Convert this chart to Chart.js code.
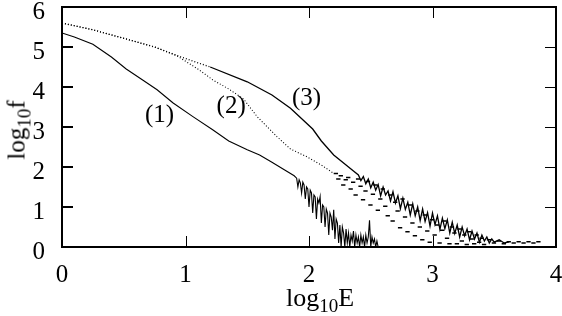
<!DOCTYPE html>
<html>
<head>
<meta charset="utf-8">
<script src="https://cdn.jsdelivr.net/npm/chart.js@4.4.0/dist/chart.umd.min.js"></script>
<style>
  html, body { margin: 0; padding: 0; background: #fff; }
  #wrap { position: relative; width: 562px; height: 316px; }
  .axis-title { position: absolute; font-family: "Liberation Serif", serif; font-size: 26px; color: #000; white-space: nowrap; line-height: 1; }
  .axis-title sub { font-size: 19px; vertical-align: -6px; line-height: 0; }
  #xtitle { left: 320px; top: 285px; transform: translateX(-50%); }
  #ytitle { left: 16px; top: 130px; transform: translate(-50%, -50%) rotate(-90deg); font-size: 25px; }
</style>
</head>
<body>
<div id="wrap">
  <canvas id="chart"></canvas>
  <div class="axis-title" id="xtitle">log<sub>10</sub>E</div>
  <div class="axis-title" id="ytitle">log<sub>10</sub>f</div>
</div>
<script>
// Tick values
const xTicks = [0, 1, 2, 3, 4];
const yTicks = [0, 1, 2, 3, 4, 5, 6];

// Curve (1) - solid, noisy tail
const x1 = [0, 0.1, 0.25, 0.4, 0.52, 0.65, 0.77, 0.9, 1.06, 1.22, 1.35, 1.5, 1.6, 1.7, 1.8, 1.88,
  1.90, 1.91, 1.92, 1.93, 1.94, 1.95, 1.96, 1.97, 1.98, 1.99, 2.00, 2.01, 2.02, 2.03, 2.04, 2.05,
  2.06, 2.07, 2.08, 2.09, 2.10, 2.11, 2.12, 2.13, 2.14, 2.15, 2.16, 2.17, 2.18, 2.19, 2.20, 2.21,
  2.22, 2.23, 2.24, 2.25, 2.26, 2.27, 2.28, 2.29, 2.30, 2.31, 2.32, 2.33, 2.34, 2.35, 2.36, 2.37,
  2.38, 2.39, 2.40, 2.41, 2.42, 2.43, 2.44, 2.45, 2.46, 2.47, 2.48, 2.49, 2.50, 2.51, 2.52, 2.53,
  2.54, 2.55, 2.56];
const y1 = [5.35, 5.25, 5.07, 4.75, 4.45, 4.18, 3.93, 3.6, 3.26, 2.93, 2.65, 2.43, 2.3, 2.12, 1.93, 1.78,
  1.72, 1.50, 1.68, 1.60, 1.35, 1.62, 1.55, 1.20, 1.50, 1.45, 1.00, 1.42, 1.35, 0.85, 1.30, 1.25,
  0.70, 1.20, 1.10, 1.26, 0.60, 1.05, 1.00, 0.50, 0.95, 0.85, 0.30, 0.85, 0.75, 0.42, 0.93, 0.20,
  0.70, 0.60, 0.10, 0.55, 0.00, 0.50, 0.35, 0.00, 0.45, 0.10, 0.35, 0.00, 0.30, 0.15, 0.40, 0.00,
  0.30, 0.10, 0.25, 0.00, 0.30, 0.10, 0.25, 0.00, 0.30, 0.10, 0.25, 0.67, 0.00, 0.25, 0.10, 0.20,
  0.00, 0.15, 0.00];

// Curve (2) - dotted main part
const x2 = [0, 0.25, 0.52, 0.75, 0.93, 1.1, 1.22, 1.35, 1.47, 1.58, 1.74, 1.85, 1.98, 2.1, 2.2];
const y2 = [5.6, 5.43, 5.2, 5.0, 4.78, 4.45, 4.18, 3.95, 3.7, 3.26, 2.76, 2.45, 2.26, 2.05, 1.84];

// Curve (2) - binned tail, drawn as short horizontal dashes
const x2t = [2.20, 2.22, 2.24, 2.26, 2.28, 2.30, 2.32, 2.34, 2.36, 2.38, 2.40, 2.42, 2.44, 2.46, 2.48,
  2.50, 2.52, 2.54, 2.56, 2.58, 2.60, 2.62, 2.64, 2.66, 2.68, 2.70, 2.72, 2.74, 2.76, 2.78, 2.80,
  2.82, 2.84, 2.86, 2.88, 2.90, 2.92, 2.94, 2.96, 2.98, 3.00, 3.02, 3.04, 3.06, 3.08, 3.10, 3.12,
  3.14, 3.16, 3.18, 3.20, 3.22, 3.24, 3.26, 3.28, 3.30, 3.32, 3.34, 3.36, 3.38, 3.40, 3.44, 3.48,
  3.52, 3.56, 3.60, 3.64, 3.68, 3.72, 3.76, 3.80, 3.84];
const y2t = [1.84, 1.70, 1.78, 1.55, 1.68, 1.74, 1.45, 1.62, 1.30, 1.70, 1.52, 1.18, 1.40, 1.64, 1.05,
  1.32, 1.55, 0.92, 1.20, 1.45, 1.02, 0.78, 1.30, 0.65, 1.12, 0.90, 0.48, 1.20, 0.75, 0.38, 1.05,
  0.60, 0.28, 0.90, 0.50, 0.18, 0.80, 0.40, 0.12, 0.68, 0.30, 0.55, 0.10, 0.42, 0.65, 0.22, 0.08,
  0.50, 0.35, 0.08, 0.45, 0.15, 0.30, 0.06, 0.38, 0.20, 0.08, 0.30, 0.12, 0.22, 0.06, 0.18, 0.10,
  0.15, 0.08, 0.13, 0.10, 0.13, 0.10, 0.13, 0.10, 0.13];
const binWidth = 0.035;

// Curve (3) - thin line, noisy tail
const x3 = [0, 0.25, 0.52, 0.75, 0.955, 1.2, 1.5, 1.7, 1.85, 2.03, 2.1, 2.2, 2.3, 2.36,
  2.40, 2.42, 2.44, 2.46, 2.48, 2.50, 2.52, 2.54, 2.56, 2.58, 2.60, 2.62, 2.64, 2.66, 2.68, 2.70,
  2.72, 2.74, 2.76, 2.78, 2.80, 2.82, 2.84, 2.86, 2.88, 2.90, 2.92, 2.94, 2.96, 2.98, 3.00, 3.02,
  3.04, 3.06, 3.08, 3.10, 3.12, 3.14, 3.16, 3.18, 3.20, 3.22, 3.24, 3.26, 3.28, 3.30, 3.32, 3.34,
  3.36, 3.38, 3.40, 3.42, 3.44, 3.46, 3.48, 3.50, 3.54, 3.58, 3.62];
const y3 = [5.6, 5.43, 5.2, 5.0, 4.76, 4.5, 4.13, 3.8, 3.47, 2.95, 2.65, 2.3, 2.05, 1.9,
  1.80, 1.66, 1.76, 1.58, 1.70, 1.48, 1.62, 1.42, 1.56, 1.28, 1.50, 1.30, 1.40, 1.15, 1.38, 1.10,
  1.28, 0.96, 1.22, 0.94, 1.12, 0.80, 1.08, 0.78, 1.00, 0.66, 0.95, 0.64, 0.86, 0.52, 0.85, 0.56,
  0.78, 0.44, 0.72, 0.46, 0.68, 0.35, 0.62, 0.34, 0.55, 0.25, 0.50, 0.28, 0.45, 0.18, 0.40, 0.20,
  0.35, 0.12, 0.30, 0.15, 0.25, 0.10, 0.20, 0.12, 0.18, 0.10, 0.13];

// Curve labels
const curveLabels = ['(1)', '(2)', '(3)'];
const labelX = [0.79, 1.37, 1.98];
const labelY = [3.3, 3.52, 3.72];

const FONT = '"Liberation Serif", serif';

function pts(xs, ys) {
  return xs.map((x, i) => ({ x, y: ys[i] }));
}

// one horizontal dash per bin, separated by gaps
function dashes(xs, ys, w) {
  const out = [];
  xs.forEach((x, i) => {
    out.push({ x, y: ys[i] }, { x: x + w, y: ys[i] }, { x: x + w, y: null });
  });
  return out;
}

// frame, inward ticks and curve labels
const framePlugin = {
  id: 'frame',
  afterDraw(chart) {
    const { ctx, chartArea: a, scales } = chart;
    ctx.save();
    ctx.strokeStyle = '#000';
    ctx.lineWidth = 1;
    xTicks.forEach(v => {
      const px = Math.round(scales.x.getPixelForValue(v)) + 0.5;
      ctx.beginPath();
      ctx.moveTo(px, a.bottom); ctx.lineTo(px, a.bottom - 11);
      ctx.moveTo(px, a.top); ctx.lineTo(px, a.top + 11);
      ctx.stroke();
    });
    yTicks.forEach(v => {
      const py = Math.round(scales.y.getPixelForValue(v));
      ctx.lineWidth = 2;
      ctx.beginPath();
      ctx.moveTo(a.left, py); ctx.lineTo(a.left + 11, py);
      ctx.stroke();
      ctx.lineWidth = 1;
      ctx.beginPath();
      ctx.moveTo(a.right, py + 0.5); ctx.lineTo(a.right - 11, py + 0.5);
      ctx.stroke();
    });
    ctx.lineWidth = 2;
    ctx.strokeRect(a.left, a.top, a.right - a.left, a.bottom - a.top);

    ctx.fillStyle = '#000';
    ctx.font = '25px ' + FONT;
    ctx.textAlign = 'center';
    ctx.textBaseline = 'middle';
    curveLabels.forEach((t, i) => {
      ctx.fillText(t, scales.x.getPixelForValue(labelX[i]), scales.y.getPixelForValue(labelY[i]));
    });
    ctx.restore();
  }
};

new Chart(document.getElementById('chart'), {
  type: 'line',
  data: {
    datasets: [
      { data: pts(x1, y1), borderColor: '#000', borderWidth: 1.1, pointRadius: 0 },
      { data: pts(x2, y2), borderColor: '#000', borderWidth: 1.1, borderDash: [1, 2], pointRadius: 0 },
      { data: dashes(x2t, y2t, binWidth), borderColor: '#000', borderWidth: 1.5, spanGaps: false, pointRadius: 0 },
      {
        data: pts(x3, y3), borderColor: '#000', borderWidth: 1.3, pointRadius: 0,
        segment: { borderDash: c => (c.p0.parsed.x < 1.2 ? [1, 2] : undefined) }
      }
    ]
  },
  options: {
    responsive: true,
    maintainAspectRatio: false,
    animation: false,
    layout: { padding: { top: 7, right: 6, left: 0, bottom: 0 } },
    plugins: { legend: { display: false }, tooltip: { enabled: false } },
    scales: {
      x: {
        type: 'linear', min: 0, max: 4,
        grid: { display: false }, border: { display: false },
        ticks: { stepSize: 1, color: '#000', padding: 5, font: { family: FONT, size: 25 } },
        afterFit: s => { s.height = 69; s.paddingLeft = 0; s.paddingRight = 0; }
      },
      y: {
        type: 'linear', min: 0, max: 6,
        grid: { display: false }, border: { display: false },
        ticks: { stepSize: 1, color: '#000', padding: 9, labelOffset: 5, font: { family: FONT, size: 25 } },
        afterFit: s => { s.width = 62; s.paddingTop = 0; s.paddingBottom = 0; }
      }
    }
  },
  plugins: [framePlugin]
});
</script>
</body>
</html>
